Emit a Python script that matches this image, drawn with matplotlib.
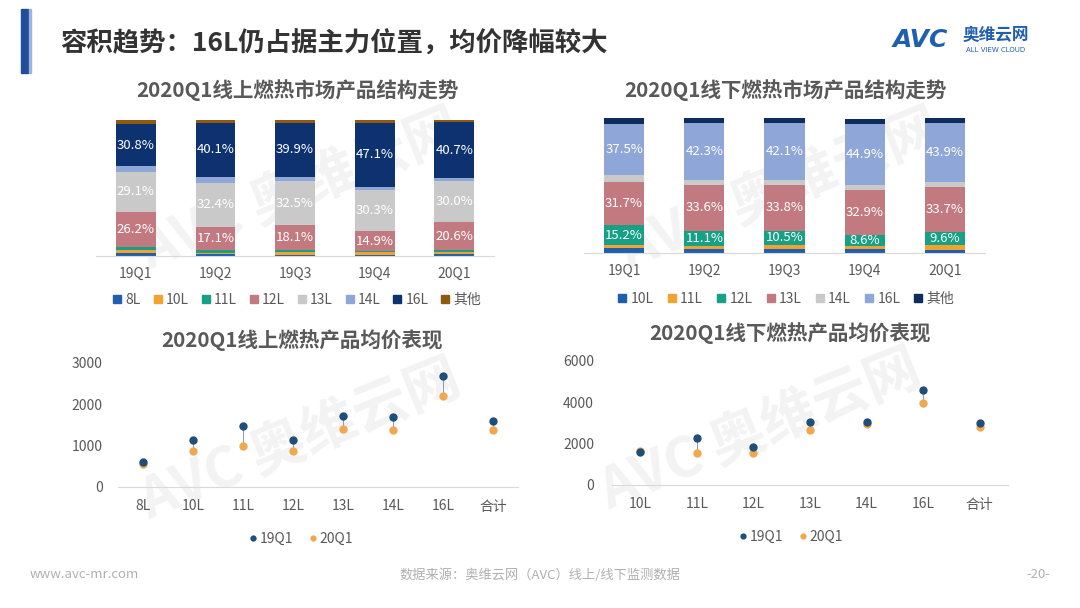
import matplotlib
matplotlib.use("Agg")
import matplotlib.pyplot as plt
from matplotlib.lines import Line2D
import numpy as np

plt.rcParams['font.family'] = ['Noto Sans CJK SC', 'DejaVu Sans']

# ---------------- data ----------------
quarters = ["19Q1", "19Q2", "19Q3", "19Q4", "20Q1"]

online_cats = ["8L", "10L", "11L", "12L", "13L", "14L", "16L", "其他"]
online_8L  = [2.2, 1.2, 1.0, 1.0, 1.7]
online_10L = [2.2, 1.2, 2.0, 2.0, 1.2]
online_11L = [2.0, 2.0, 1.5, 0.5, 1.5]
online_12L = [26.2, 17.1, 18.1, 14.9, 20.6]
online_13L = [29.1, 32.4, 32.5, 30.3, 30.0]
online_14L = [4.5, 4.0, 3.0, 2.2, 2.5]
online_16L = [30.8, 40.1, 39.9, 47.1, 40.7]
online_oth = [3.0, 2.0, 2.0, 2.0, 1.8]
online_labeled = ["12L", "13L", "16L"]

offline_cats = ["10L", "11L", "12L", "13L", "14L", "16L", "其他"]
offline_10L = [3.6, 3.0, 3.1, 2.6, 2.3]
offline_11L = [2.0, 2.5, 3.0, 2.5, 3.5]
offline_12L = [15.2, 11.1, 10.5, 8.6, 9.6]
offline_13L = [31.7, 33.6, 33.8, 32.9, 33.7]
offline_14L = [5.5, 4.0, 4.0, 4.0, 3.5]
offline_16L = [37.5, 42.3, 42.1, 44.9, 43.9]
offline_oth = [4.5, 3.5, 3.5, 3.5, 3.5]
offline_labeled = ["12L", "13L", "16L"]

price_on_cats = ["8L", "10L", "11L", "12L", "13L", "14L", "16L", "合计"]
price_on_19Q1 = [600, 1130, 1470, 1145, 1720, 1695, 2690, 1600]
price_on_20Q1 = [560, 865, 1000, 865, 1410, 1370, 2200, 1390]

price_off_cats = ["10L", "11L", "12L", "13L", "14L", "16L", "合计"]
price_off_19Q1 = [1600, 2280, 1830, 3050, 3040, 4600, 3020]
price_off_20Q1 = [1630, 1540, 1540, 2650, 2930, 3950, 2800]

# ---------------- styling ----------------
W, H = 1080, 608
fig = plt.figure(figsize=(W / 100, H / 100), dpi=100)
fig.patch.set_facecolor("white")

def box(x0, y0, x1, y1):
    return [x0 / W, 1 - y1 / H, (x1 - x0) / W, (y1 - y0) / H]

def fx(x):
    return x / W

def fy(y):
    return 1 - y / H

GRAY_TXT = "#595959"
AX_LINE = "#D9D9D9"

online_colors = {"8L": "#1F5FAD", "10L": "#F2A22E", "11L": "#16A085", "12L": "#C27A80",
                 "13L": "#C9C9C9", "14L": "#8EA6D8", "16L": "#0E3270", "其他": "#8E5A12"}
offline_colors = {"10L": "#1F5FAD", "11L": "#F2A22E", "12L": "#16A085", "13L": "#C27A80",
                  "14L": "#C9C9C9", "16L": "#8EA6D8", "其他": "#0E2D5E"}

# ---------------- header ----------------
bar_ax = fig.add_axes([0, 0, 1, 1], zorder=-5)
bar_ax.set_xlim(0, W)
bar_ax.set_ylim(H, 0)
bar_ax.axis("off")
bar_ax.add_patch(plt.Rectangle((21, 9), 7, 64, color="#1F4E9C"))
bar_ax.add_patch(plt.Rectangle((29, 9), 1.5, 64, color="#9DB5DD"))

fig.text(fx(60), fy(44), "容积趋势：16L仍占据主力位置，均价降幅较大", fontsize=19,
         fontweight="bold", color="#333333", va="center", ha="left")

# logo
fig.text(fx(893), fy(40), "AVC", fontsize=18, fontweight="bold", style="italic",
         color="#1F5FAD", va="center", ha="left", family=["DejaVu Sans"])
fig.text(fx(963), fy(35), "奥维云网", fontsize=12, fontweight="bold",
         color="#1F5FAD", va="center", ha="left")
fig.text(fx(966), fy(50), "ALL VIEW CLOUD", fontsize=5,
         color="#1F5FAD", va="center", ha="left", family=["DejaVu Sans"])

# watermark
for (x, y) in [(300, 190), (780, 190), (300, 440), (760, 430)]:
    fig.text(fx(x), fy(y), "AVC 奥维云网", fontsize=40, fontweight="bold", color="#F3F3F3",
             rotation=22, ha="center", va="center", zorder=-3)

# ---------------- stacked bars ----------------
def stacked(ax, cats, series, colors, labeled):
    x = np.arange(len(quarters))
    bottom = np.zeros(len(quarters))
    for c in cats:
        vals = np.array(series[c], dtype=float)
        ax.bar(x, vals, bottom=bottom, width=0.5, color=colors[c], label=c, linewidth=0)
        if c in labeled:
            for xi, v, b in zip(x, vals, bottom):
                ax.text(xi, b + v / 2, f"{v:.1f}%", ha="center", va="center",
                        color="white", fontsize=9.5)
        bottom += vals
    ax.set_xlim(-0.5, len(quarters) - 0.5)
    ax.set_ylim(0, 100)
    ax.set_xticks(x)
    ax.set_xticklabels(quarters, fontsize=10, color=GRAY_TXT)
    ax.tick_params(axis="x", length=0, pad=8)
    ax.set_yticks([])
    for s in ["top", "left", "right"]:
        ax.spines[s].set_visible(False)
    ax.spines["bottom"].set_color(AX_LINE)
    ax.set_facecolor("none")

ax1 = fig.add_axes(box(96, 120, 494, 256))
online_series = {"8L": online_8L, "10L": online_10L, "11L": online_11L, "12L": online_12L,
                 "13L": online_13L, "14L": online_14L, "16L": online_16L, "其他": online_oth}
stacked(ax1, online_cats, online_series, online_colors, online_labeled)
fig.text(fx(297), fy(90), "2020Q1线上燃热市场产品结构走势", fontsize=14.8, fontweight="bold",
         color=GRAY_TXT, ha="center", va="center")
h1 = [Line2D([], [], marker="s", linestyle="none", color=online_colors[c], markersize=6) for c in online_cats]
fig.legend(h1, online_cats, loc="center", bbox_to_anchor=(fx(296), fy(300)), ncol=8,
           frameon=False, fontsize=10, handletextpad=0.1, columnspacing=0.7,
           labelcolor=GRAY_TXT, handlelength=1.0)

ax2 = fig.add_axes(box(584, 118, 985, 253))
offline_series = {"10L": offline_10L, "11L": offline_11L, "12L": offline_12L, "13L": offline_13L,
                  "14L": offline_14L, "16L": offline_16L, "其他": offline_oth}
stacked(ax2, offline_cats, offline_series, offline_colors, offline_labeled)
fig.text(fx(785), fy(90), "2020Q1线下燃热市场产品结构走势", fontsize=14.8, fontweight="bold",
         color=GRAY_TXT, ha="center", va="center")
h2 = [Line2D([], [], marker="s", linestyle="none", color=offline_colors[c], markersize=6) for c in offline_cats]
fig.legend(h2, offline_cats, loc="center", bbox_to_anchor=(fx(785), fy(299)), ncol=7,
           frameon=False, fontsize=10, handletextpad=0.1, columnspacing=0.8,
           labelcolor=GRAY_TXT, handlelength=1.0)

# ---------------- dot charts ----------------
C19 = "#1F4E79"
C20 = "#F0A850"

def dots(ax, cats, v19, v20, ymax, step, pad):
    x = np.arange(len(cats))
    ax.vlines(x, v20, v19, color="#8C9FBF", linewidth=0.8, zorder=1)
    ax.plot(x, v19, "o", color=C19, markersize=5, zorder=3, clip_on=False, label="19Q1")
    ax.plot(x, v20, "o", color=C20, markersize=5, zorder=2, clip_on=False, label="20Q1")
    ax.set_xlim(-0.5, len(cats) - 0.5)
    ax.set_ylim(0, ymax)
    ax.set_yticks(np.arange(0, ymax + 1, step))
    ax.set_xticks(x)
    ax.set_xticklabels(cats, fontsize=10, color=GRAY_TXT)
    ax.tick_params(axis="x", length=0, pad=9)
    ax.tick_params(axis="y", length=0, pad=pad, labelsize=10, labelcolor=GRAY_TXT)
    for s in ["top", "left", "right"]:
        ax.spines[s].set_visible(False)
    ax.spines["bottom"].set_color(AX_LINE)
    ax.set_facecolor("none")

ax3 = fig.add_axes(box(118, 363, 518, 487))
dots(ax3, price_on_cats, price_on_19Q1, price_on_20Q1, 3000, 1000, 11)
fig.text(fx(302), fy(340), "2020Q1线上燃热产品均价表现", fontsize=14.8, fontweight="bold",
         color=GRAY_TXT, ha="center", va="center")
ax3.legend(loc="center", bbox_to_anchor=(fx(300), fy(539)), bbox_transform=fig.transFigure,
           ncol=2, frameon=False, fontsize=10, handletextpad=0.1, columnspacing=1.0,
           labelcolor=GRAY_TXT, handlelength=0.8, markerscale=0.7)

ax4 = fig.add_axes(box(612, 361, 1008, 485))
dots(ax4, price_off_cats, price_off_19Q1, price_off_20Q1, 6000, 2000, 13)
fig.text(fx(790), fy(333), "2020Q1线下燃热产品均价表现", fontsize=14.8, fontweight="bold",
         color=GRAY_TXT, ha="center", va="center")
ax4.legend(loc="center", bbox_to_anchor=(fx(790), fy(537)), bbox_transform=fig.transFigure,
           ncol=2, frameon=False, fontsize=10, handletextpad=0.1, columnspacing=1.0,
           labelcolor=GRAY_TXT, handlelength=0.8, markerscale=0.7)

# ---------------- footer ----------------
fig.text(fx(30), fy(575), "www.avc-mr.com", fontsize=9.5, color="#B0B0B0", ha="left", va="center")
fig.text(fx(540), fy(575), "数据来源：奥维云网（AVC）线上/线下监测数据", fontsize=9.5,
         color="#B0B0B0", ha="center", va="center")
fig.text(fx(1050), fy(575), "-20-", fontsize=9.5, color="#B0B0B0", ha="right", va="center")

fig.savefig("out.png", dpi=100)
